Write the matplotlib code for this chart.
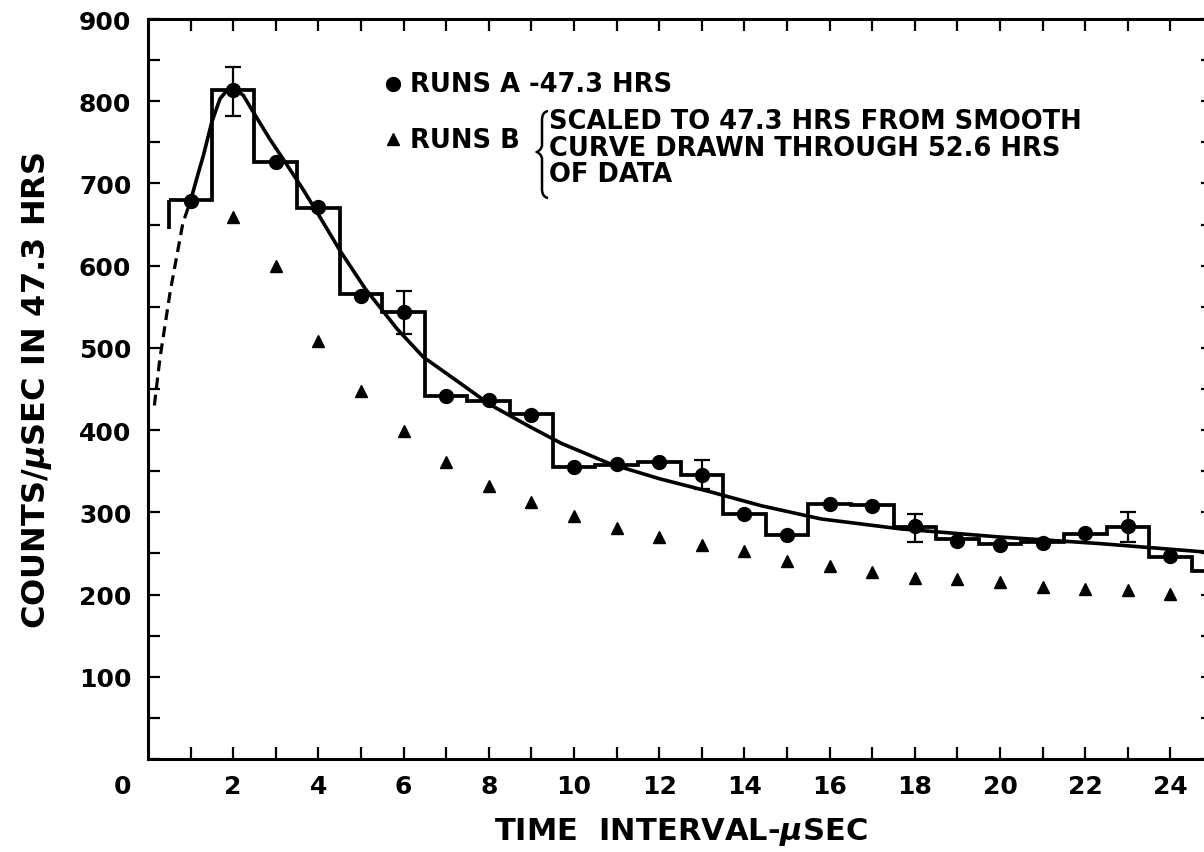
import numpy as np
import matplotlib.pyplot as plt
from matplotlib.path import Path
from matplotlib.patches import PathPatch

plt.rcParams['font.family'] = 'DejaVu Sans'
plt.rcParams['font.weight'] = 'bold'
plt.rcParams['mathtext.fontset'] = 'custom'
plt.rcParams['mathtext.it'] = 'DejaVu Sans:italic:bold'
plt.rcParams['mathtext.rm'] = 'DejaVu Sans:bold'

# Runs A (circles) - counts per usec, 47.3 hrs
times_a = list(range(1, 25))
counts_a = [679, 814, 726, 671, 563, 544, 442, 437, 419, 355, 359, 361,
            346, 298, 272, 310, 308, 284, 265, 260, 263, 275, 284, 247]

# error bars on a few points
err_t = [2, 6, 13, 18, 23]
err_y = [812, 543, 346, 281, 282]
err_size = [30, 26, 18, 17, 18]

# histogram of runs A (bins 1 usec wide)
hist_edges = [0.5 + i for i in range(26)]
hist_levels = [680, 814, 726, 670, 566, 544, 441, 436, 420, 355, 358, 361,
               345, 298, 272, 310, 309, 282, 268, 262, 264, 274, 282, 246, 229]
hist_left_low = 645

# Runs B (triangles)
times_b = list(range(2, 25))
counts_b = [659, 600, 509, 448, 399, 361, 332, 313, 296, 281, 270, 260,
            253, 241, 235, 228, 220, 219, 215, 209, 207, 206, 201]

# smooth curve
curve_t = [1.0, 1.15, 1.3, 1.5, 1.69, 1.85, 1.97, 2.1, 2.24, 2.47, 2.86,
           3.22, 3.65, 4.05, 4.5, 5.1, 5.85, 6.46, 7.25, 8.03, 8.97, 9.7,
           10.85, 12.0, 13.2, 14.4, 15.8, 17.65, 20.0, 22.35, 25.0]
curve_y = [679, 707, 734, 775, 803, 813, 815, 813, 807, 787, 754,
           726, 692, 658, 619, 572, 523, 489, 460, 431, 404, 384,
           359, 341, 325, 308, 292, 280, 270, 262, 251]

# dashed extrapolation below 1 usec
dash_t = [0.15, 0.28, 0.52, 0.82, 1.0]
dash_y = [430, 487, 568, 652, 679]

fig = plt.figure(figsize=(12.04, 8.53), dpi=100)
ax = fig.add_axes([0.1229, 0.109, 0.8846, 0.8675])

ax.plot(curve_t, curve_y, color='black', lw=2.6, solid_joinstyle='round')
ax.plot(dash_t, dash_y, color='black', lw=2.3, linestyle='--', dashes=(3.4, 2.0))
ax.stairs(hist_levels, hist_edges, baseline=None, color='black', lw=2.7)
ax.vlines(hist_edges[0], hist_left_low, hist_levels[0], color='black', lw=2.7)

ax.plot(times_a, counts_a, 'o', color='black', ms=10)
ax.errorbar(err_t, err_y, yerr=err_size, fmt='none', ecolor='black',
            elinewidth=1.6, capsize=6, capthick=1.6)
ax.plot(times_b, counts_b, '^', color='black', ms=9)

ax.set_xlim(0, 25)
ax.set_ylim(0, 900)

ax.set_xticks(range(1, 25))
ax.set_xticklabels([str(t) if t % 2 == 0 else '' for t in range(1, 25)])
ax.set_yticks(range(0, 901, 50))
ax.set_yticklabels([str(v) if v % 100 == 0 and v > 0 else '' for v in range(0, 901, 50)])
ax.tick_params(direction='in', length=8.6, width=1.6, top=True, right=True,
               labelsize=18)
ax.tick_params(axis='x', pad=11)
ax.tick_params(axis='y', pad=12)
for s in ax.spines.values():
    s.set_linewidth(2.2)

ax.annotate('0', xy=(0, 0), xytext=(-12, -11), textcoords='offset points',
            ha='right', va='top', fontsize=18, fontweight='bold')

ax.set_xlabel('TIME  INTERVAL-$\\mu$SEC', fontsize=22, fontweight='bold', labelpad=12)
ax.set_ylabel('COUNTS/$\\mu$SEC IN 47.3 HRS', fontsize=23, fontweight='bold', labelpad=18)

# key in the upper part of the plot
ax.plot([0.230], [0.912], 'o', color='black', ms=10, transform=ax.transAxes, clip_on=False)
ax.plot([0.230], [0.838], '^', color='black', ms=9, transform=ax.transAxes, clip_on=False)
ax.text(0.246, 0.912, 'RUNS A -47.3 HRS', transform=ax.transAxes,
        fontsize=18.5, fontweight='bold', ha='left', va='center')
ax.text(0.246, 0.836, 'RUNS B', transform=ax.transAxes,
        fontsize=18.5, fontweight='bold', ha='left', va='center')
ax.text(0.377, 0.826, 'SCALED TO 47.3 HRS FROM SMOOTH\nCURVE DRAWN THROUGH 52.6 HRS\nOF DATA',
        transform=ax.transAxes, fontsize=18.5, fontweight='bold', ha='left', va='center',
        linespacing=1.02)

# brace, drawn in figure pixels
W, H = 1204.0, 853.0
def fp(x, y):
    return (x / W, 1 - y / H)
verts = [fp(548, 112), fp(542, 113), fp(542, 121),
         fp(542, 146), fp(542, 150), fp(537, 153),
         fp(542, 156), fp(542, 160), fp(542, 190),
         fp(542, 198), fp(548, 199)]
codes = [Path.MOVETO, Path.CURVE3, Path.CURVE3,
         Path.LINETO, Path.CURVE3, Path.CURVE3,
         Path.CURVE3, Path.CURVE3, Path.LINETO,
         Path.CURVE3, Path.CURVE3]
fig.add_artist(PathPatch(Path(verts, codes), transform=fig.transFigure,
                         fill=False, lw=1.8, color='black'))

fig.savefig('out.png', dpi=100)
